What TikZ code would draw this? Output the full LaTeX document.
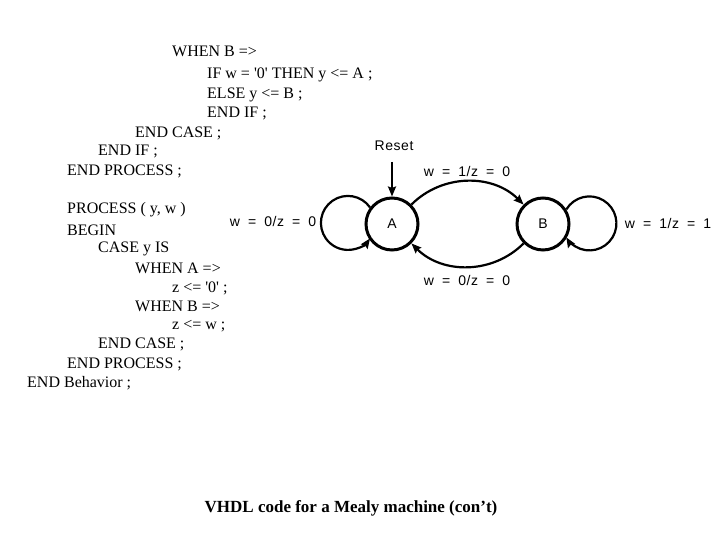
\documentclass[tikz,border=0pt]{standalone}
\usepackage{fontspec}
\setmainfont{Liberation Serif}
\newfontfamily\lblfont[WordSpace=1.8,LetterSpace=4]{Liberation Sans}
\usetikzlibrary{arrows.meta}
\tikzset{
  state/.style={draw,circle,line width=3bp,minimum size=52bp,inner sep=0pt,font=\lblfont\fontsize{14bp}{16bp}\selectfont},
  lbl/.style={font=\lblfont\fontsize{14bp}{16bp}\selectfont,inner sep=0pt},
  code/.style={anchor=west,inner sep=0pt,font=\fontsize{16bp}{18bp}\selectfont},
  trans/.style={line width=2.2bp,-{Stealth[length=10bp,width=8bp,inset=1.5bp]}}
}
\begin{document}
\begin{tikzpicture}[x=1bp,y=1bp]
    \useasboundingbox (0,0) rectangle (720,540);
    % VHDL listing
    \foreach \i/\px/\py/\txt in {
        1/172/51/{WHEN B =>},
        2/207/75/{IF w = \textquotesingle0\textquotesingle\ THEN y <= A ;},
        3/207/95/{ELSE y <= B ;},
        4/207/114/{END IF ;},
        5/135/133/{END CASE ;},
        6/98/152/{END IF ;},
        7/67/171/{END PROCESS ;},
        8/67/210/{PROCESS ( y, w )},
        9/67/230/{BEGIN},
        10/98/249/{CASE y IS},
        11/135/268/{WHEN A =>},
        12/172/288/{z <= \textquotesingle0\textquotesingle\ ;},
        13/135/306/{WHEN B =>},
        14/172/326/{z <= w ;},
        15/98/344/{END CASE ;},
        16/67/364/{END PROCESS ;},
        17/27/383/{END Behavior ;}}
        \node[code] (ln\i) at (\px,540-\py) {\txt};
    % state diagram
    \node[state] (A) at (392,316) {A};
    \node[state] (B) at (543,316) {B};
    \coordinate (rst) at (392,378);
    \node[lbl] (reset) at (394,394) {Reset};
    \draw[trans] (rst) -- (A.north);
    \draw[trans] (A.45) to[bend left=45] (B.135);
    \draw[trans] (B.225) to[bend left=45] (A.-45);
    \draw[trans] (A.143.5) arc[start angle=35,end angle=325,radius=27];
    \draw[trans] (B.32.6) arc[start angle=148.8,end angle=-148.8,radius=27];
    \node[lbl] (lAB) at (467,368) {w = 1/z = 0};
    \node[lbl] (lBA) at (467,259) {w = 0/z = 0};
    \node[lbl] (lAA) at (273,318) {w = 0/z = 0};
    \node[lbl] (lBB) at (668,316) {w = 1/z = 1};
    % caption
    \node[font=\bfseries\fontsize{17bp}{19bp}\selectfont] (title) at (351,32) {VHDL code for a Mealy machine (con’t)};
\end{tikzpicture}
\end{document}
